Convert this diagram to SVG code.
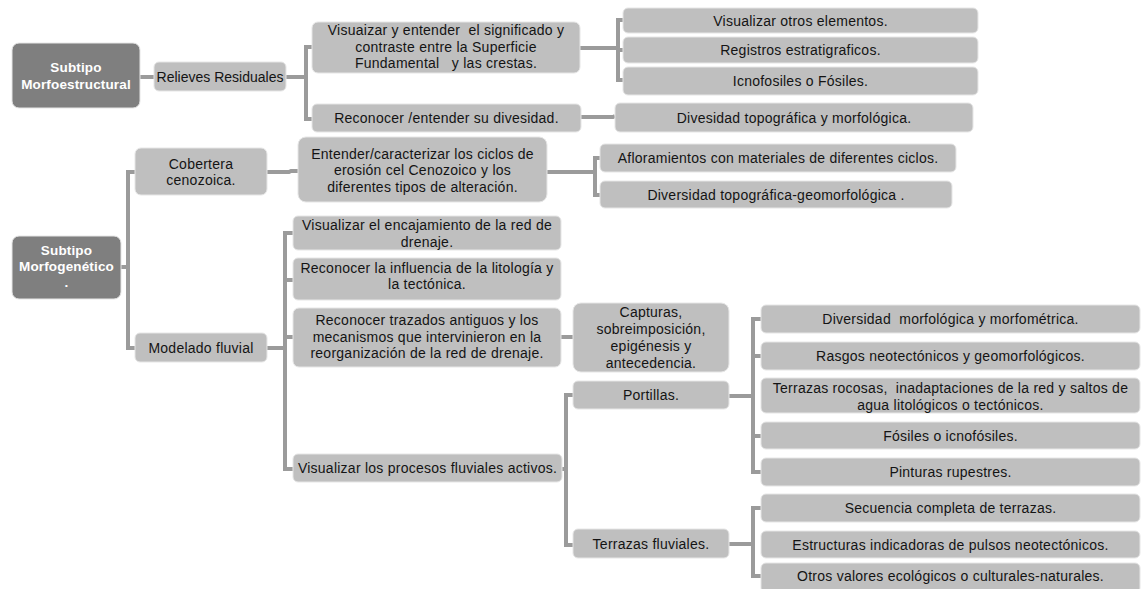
<svg xmlns="http://www.w3.org/2000/svg" width="1142" height="589" viewBox="0 0 1142 589">
<style>
.bx{fill:#bfbfbf;stroke:#e6e6e6;stroke-width:1}
.dk{fill:#7f7f7f;stroke:#e6e6e6;stroke-width:1}
.t{font-family:"Liberation Sans",Arial,sans-serif;font-size:14px;letter-spacing:0.25px;fill:#141414;text-anchor:middle;white-space:pre}
.w{font-family:"Liberation Sans",Arial,sans-serif;font-size:13.5px;letter-spacing:0.15px;font-weight:bold;fill:#ffffff;text-anchor:middle}
.c{fill:none;stroke:#9b9b9b;stroke-width:4}
</style>
<rect width="1142" height="589" fill="#ffffff"/>
<g id="connectors">
<path class="c" d="M140,77 H154"/>
<path class="c" d="M286,77 H306 M312,47 H306 V119 H312"/>
<path class="c" d="M580,48 H618 M623,20 H618 V80 H623 M618,50 H623"/>
<path class="c" d="M581,117 H613 L615,116"/>
<path class="c" d="M121,267 H128 M135,172 H128 V348 H135"/>
<path class="c" d="M267,172 H289 L291,171 H298"/>
<path class="c" d="M547,172 H595 M600,158 H595 V195 H600"/>
<path class="c" d="M267,348 H285 M293,233 H285 V469 H293 M285,280 H293 M285,337 H293"/>
<path class="c" d="M561,337 H573"/>
<path class="c" d="M562,469 H566 M573,395 H566 V545 H573"/>
<path class="c" d="M729,396 H753 M761,319 H753 V472 H761 M753,356 H761 M753,436 H761"/>
<path class="c" d="M729,544 H753 M761,508 H753 V576 H761"/>
</g>
<g id="n_morfoestructural"><rect class="dk" x="12" y="43" width="128" height="65" rx="7"/><text class="w" x="76" y="72">Subtipo</text><text class="w" x="76" y="89">Morfoestructural</text></g>
<g id="n_relieves"><rect class="bx" x="154" y="62" width="132" height="29" rx="5"/><text class="t" x="220" y="81.5" style="letter-spacing:0">Relieves Residuales</text></g>
<g id="n_visuaizar"><rect class="bx" x="312" y="22" width="268" height="51" rx="6"/><text class="t" x="446" y="35">Visuaizar y entender  el significado y</text><text class="t" x="446" y="51.5">contraste entre la Superficie</text><text class="t" x="446" y="68">Fundamental   y las crestas.</text></g>
<g id="n_reconocer_div"><rect class="bx" x="312" y="104" width="269" height="28" rx="5"/><text class="t" x="446.5" y="123">Reconocer /entender su divesidad.</text></g>
<g id="n_visualizar_otros"><rect class="bx" x="623" y="8" width="355" height="25" rx="5"/><text class="t" x="800.5" y="25.5">Visualizar otros elementos.</text></g>
<g id="n_registros"><rect class="bx" x="623" y="37" width="355" height="26" rx="5"/><text class="t" x="800.5" y="55">Registros estratigraficos.</text></g>
<g id="n_icnofosiles"><rect class="bx" x="623" y="67" width="355" height="28" rx="5"/><text class="t" x="800.5" y="86">Icnofosiles o Fósiles.</text></g>
<g id="n_divesidad_topo"><rect class="bx" x="615" y="103" width="358" height="29" rx="5"/><text class="t" x="794" y="122.5">Divesidad topográfica y morfológica.</text></g>
<g id="n_morfogenetico"><rect class="dk" x="12" y="236" width="109" height="63" rx="7"/><text class="w" x="66.5" y="255">Subtipo</text><text class="w" x="66.5" y="271">Morfogenético</text><text class="w" x="66.5" y="287">.</text></g>
<g id="n_cobertera"><rect class="bx" x="135" y="148" width="132" height="47" rx="6"/><text class="t" x="201" y="168.5">Cobertera</text><text class="t" x="201" y="185">cenozoica.</text></g>
<g id="n_modelado"><rect class="bx" x="135" y="333" width="132" height="29" rx="5"/><text class="t" x="201" y="352.5">Modelado fluvial</text></g>
<g id="n_entender"><rect class="bx" x="298" y="137" width="249" height="65" rx="8"/><text class="t" x="422.5" y="158.5">Entender/caracterizar los ciclos de</text><text class="t" x="422.5" y="175">erosión cel Cenozoico y los</text><text class="t" x="422.5" y="191.5">diferentes tipos de alteración.</text></g>
<g id="n_afloramientos"><rect class="bx" x="600" y="144" width="356" height="28" rx="5"/><text class="t" x="778" y="163">Afloramientos con materiales de diferentes ciclos.</text></g>
<g id="n_diversidad_geo"><rect class="bx" x="600" y="181" width="352" height="27" rx="5"/><text class="t" x="776" y="199.5">Diversidad topográfica-geomorfológica .</text></g>
<g id="n_encajamiento"><rect class="bx" x="293" y="216" width="268" height="34" rx="5"/><text class="t" x="427" y="230">Visualizar el encajamiento de la red de</text><text class="t" x="427" y="246.5">drenaje.</text></g>
<g id="n_influencia"><rect class="bx" x="293" y="258" width="268" height="42" rx="5"/><text class="t" x="427" y="272.5">Reconocer la influencia de la litología y</text><text class="t" x="427" y="289">la tectónica.</text></g>
<g id="n_trazados"><rect class="bx" x="293" y="308" width="268" height="59" rx="6"/><text class="t" x="427" y="325">Reconocer trazados antiguos y los</text><text class="t" x="427" y="341.5">mecanismos que intervinieron en la</text><text class="t" x="427" y="358">reorganización de la red de drenaje.</text></g>
<g id="n_procesos"><rect class="bx" x="293" y="454" width="269" height="28" rx="5"/><text class="t" x="427.5" y="473">Visualizar los procesos fluviales activos.</text></g>
<g id="n_capturas"><rect class="bx" x="573" y="303" width="156" height="69" rx="8"/><text class="t" x="651" y="317">Capturas,</text><text class="t" x="651" y="334">sobreimposición,</text><text class="t" x="651" y="351">epigénesis y</text><text class="t" x="651" y="368">antecedencia.</text></g>
<g id="n_portillas"><rect class="bx" x="573" y="381" width="156" height="28" rx="5"/><text class="t" x="651" y="400">Portillas.</text></g>
<g id="n_terrazas_fluviales"><rect class="bx" x="573" y="529" width="156" height="29" rx="5"/><text class="t" x="651" y="548.5">Terrazas fluviales.</text></g>
<g id="n_diversidad_morfo"><rect class="bx" x="761" y="305" width="379" height="28" rx="5"/><text class="t" x="950.5" y="324">Diversidad  morfológica y morfométrica.</text></g>
<g id="n_rasgos"><rect class="bx" x="761" y="342" width="379" height="28" rx="5"/><text class="t" x="950.5" y="361">Rasgos neotectónicos y geomorfológicos.</text></g>
<g id="n_terrazas_rocosas"><rect class="bx" x="761" y="378" width="379" height="35" rx="5"/><text class="t" x="950.5" y="393">Terrazas rocosas,  inadaptaciones de la red y saltos de</text><text class="t" x="950.5" y="409.5">agua litológicos o tectónicos.</text></g>
<g id="n_fosiles"><rect class="bx" x="761" y="422" width="379" height="27" rx="5"/><text class="t" x="950.5" y="440.5">Fósiles o icnofósiles.</text></g>
<g id="n_pinturas"><rect class="bx" x="761" y="458" width="379" height="28" rx="5"/><text class="t" x="950.5" y="477">Pinturas rupestres.</text></g>
<g id="n_secuencia"><rect class="bx" x="761" y="494" width="379" height="28" rx="5"/><text class="t" x="950.5" y="513">Secuencia completa de terrazas.</text></g>
<g id="n_estructuras"><rect class="bx" x="761" y="531" width="379" height="27" rx="5"/><text class="t" x="950.5" y="549.5">Estructuras indicadoras de pulsos neotectónicos.</text></g>
<g id="n_otros"><rect class="bx" x="761" y="563" width="379" height="30" rx="5"/><text class="t" x="950.5" y="581">Otros valores ecológicos o culturales-naturales.</text></g>
</svg>
